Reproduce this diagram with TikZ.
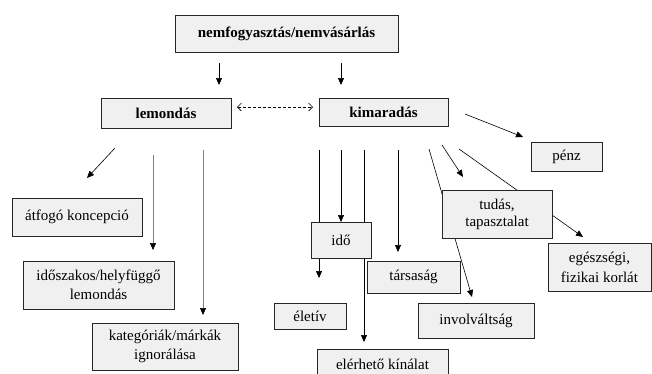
\documentclass[tikz,border=0pt]{standalone}
\usepackage{fontspec}
\setmainfont{Liberation Serif}
\usetikzlibrary{arrows.meta,backgrounds}
\definecolor{boxgray}{HTML}{F0F0F0}
\tikzset{
  box/.style={draw=black!85, fill=boxgray, line width=1pt, inner sep=0pt, align=center,
    font=\fontsize{15}{19}\selectfont},
  bbox/.style={box, font=\fontsize{15}{19}\selectfont\bfseries},
  conn/.style={line width=0.6pt, -{Triangle[length=7pt,width=6pt,color=black]}},
  gconn/.style={conn, draw=black!50},
  dconn/.style={line width=0.6pt, dashed, dash pattern=on 3pt off 2pt, {Straight Barb[length=4pt,width=8pt]}-{Straight Barb[length=4pt,width=8pt]}}
}
\begin{document}
\begin{tikzpicture}[x=1pt,y=-1pt]
\useasboundingbox (0,0) rectangle (652,373);
\clip (0,0) rectangle (652,373);
% boxes
\node[bbox, minimum width=223, minimum height=37] (top) at (286.5,33.5) {nemfogyasztás/nemvásárlás};
\node[bbox, minimum width=130, minimum height=30] (lem) at (166,113) {lemondás};
\node[bbox, minimum width=129, minimum height=28] (kim) at (383.5,112) {kimaradás};
\node[box, minimum width=130, minimum height=38] (atf) at (77,217) {átfogó koncepció};
\node[box, minimum width=151, minimum height=48] (idosz) at (98.5,285) {időszakos/helyfüggő\\lemondás};
\node[box, minimum width=146, minimum height=47] (kat) at (165,346.5) {kategóriák/márkák\\ignorálása};
\node[box, minimum width=60, minimum height=36] (ido) at (341,240) {idő};
\node[box, minimum width=93, minimum height=32] (tars) at (413.5,277) {társaság};
\node[box, minimum width=72, minimum height=26] (eletiv) at (310,316) {életív};
\node[box, minimum width=131, minimum height=31] (elerh) at (382.5,364.5) {elérhető kínálat};
\node[box, minimum width=116, minimum height=35] (invol) at (476,320.5) {involváltság};
\node[box, minimum width=110, minimum height=48, font=\fontsize{15}{17}\selectfont] (tudas) at (497,214) {tudás,\\tapasztalat};
\node[box, minimum width=71, minimum height=29] (penz) at (566.5,156.5) {pénz};
\node[box, minimum width=103, minimum height=48, font=\fontsize{15}{20}\selectfont] (egesz) at (599.5,267) {egészségi,\\fizikai korlát};
% connector end points
\coordinate (t1s) at (219,63);  \coordinate (t1e) at (219,85);
\coordinate (t2s) at (341,63);  \coordinate (t2e) at (341,85);
\coordinate (ds) at (237,107);  \coordinate (de) at (313,107);
\coordinate (l1s) at (115,148); \coordinate (l1e) at (87,178);
\coordinate (l2s) at (153,155); \coordinate (l2e) at (153,250);
\coordinate (l3s) at (203,150); \coordinate (l3e) at (203,315);
\coordinate (k1s) at (319,150); \coordinate (k1e) at (319,278);
\coordinate (k2s) at (341,150); \coordinate (k2e) at (341,222);
\coordinate (k3s) at (364,150); \coordinate (k3e) at (364,342);
\coordinate (k4s) at (398,150); \coordinate (k4e) at (398,252);
\coordinate (k5s) at (429,149); \coordinate (k5e) at (472,297);
\coordinate (k6s) at (442,145); \coordinate (k6e) at (463,177);
\coordinate (k7s) at (459,149); \coordinate (k7e) at (583,237);
\coordinate (k8s) at (465,114); \coordinate (k8e) at (523,137);
\begin{scope}[on background layer]
\draw[conn] (t1s) -- (t1e);
\draw[conn] (t2s) -- (t2e);
\draw[dconn] (ds) -- (de);
\draw[conn] (l1s) -- (l1e);
\draw[gconn] (l2s) -- (l2e);
\draw[gconn] (l3s) -- (l3e);
\draw[conn] (k1s) -- (k1e);
\draw[conn] (k2s) -- (k2e);
\draw[conn] (k3s) -- (k3e);
\draw[conn] (k4s) -- (k4e);
\draw[conn] (k5s) -- (k5e);
\draw[conn] (k6s) -- (k6e);
\draw[conn] (k7s) -- (k7e);
\draw[conn] (k8s) -- (k8e);
\end{scope}
\end{tikzpicture}
\end{document}
